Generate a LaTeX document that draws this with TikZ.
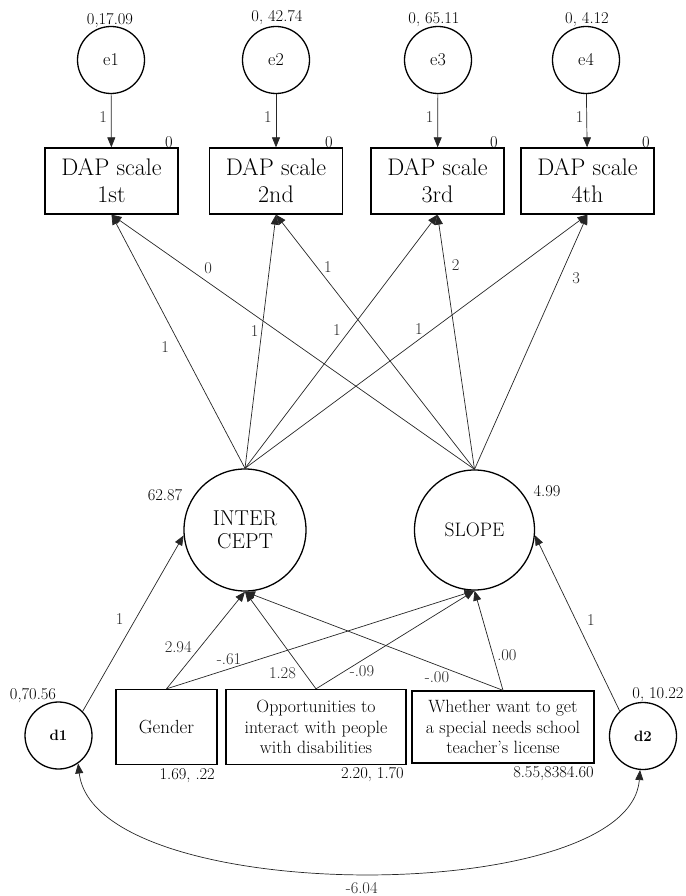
\documentclass[tikz,border=0pt]{standalone}
\usepackage{amsmath}
\usetikzlibrary{arrows.meta}

\tikzset{
  lbl/.style={font=\fontsize{16.5}{19}\selectfont,inner sep=0pt},
  obs/.style={draw,line width=1.3pt,align=center,inner sep=2pt},
  lat/.style={draw,circle,line width=1.3pt,align=center,inner sep=0pt},
  arr/.style={-{Triangle[length=10pt,width=8pt]},line width=0.7pt,black!85},
  cov/.style={{Triangle[length=10pt,width=8pt]}-{Triangle[length=10pt,width=8pt]},line width=0.7pt,black!85}
}

\begin{document}
\begin{tikzpicture}[x=1pt,y=-1pt]
\useasboundingbox (0,0) rectangle (685,896);

% error terms
\node[lat,minimum size=67pt,font=\fontsize{18}{21}\selectfont] (e1) at (111,60) {e1};
\node[lat,minimum size=67pt,font=\fontsize{18}{21}\selectfont] (e2) at (276,60) {e2};
\node[lat,minimum size=67pt,font=\fontsize{18}{21}\selectfont] (e3) at (438,60) {e3};
\node[lat,minimum size=67pt,font=\fontsize{18}{21}\selectfont] (e4) at (586,60) {e4};
\node[lbl] (ve1) at (110,21) {0,17.09};
\node[lbl] (ve2) at (277,18) {0, 42.74};
\node[lbl] (ve3) at (434,20) {0, 65.11};
\node[lbl] (ve4) at (587,20) {0, 4.12};

% DAP scale
\node[obs,minimum width=133pt,minimum height=66pt,font=\fontsize{24}{27}\selectfont] (b1) at (111.5,181) {DAP scale\\1st};
\node[obs,minimum width=133pt,minimum height=66pt,font=\fontsize{24}{27}\selectfont] (b2) at (276,181) {DAP scale\\2nd};
\node[obs,minimum width=133pt,minimum height=66pt,font=\fontsize{24}{27}\selectfont] (b3) at (437.5,181) {DAP scale\\3rd};
\node[obs,minimum width=133pt,minimum height=66pt,font=\fontsize{24}{27}\selectfont] (b4) at (587.5,181) {DAP scale\\4th};
\node[lbl] (m1) at (169,142) {0};
\node[lbl] (m2) at (329,142) {0};
\node[lbl] (m3) at (494,142) {0};
\node[lbl] (m4) at (646,142) {0};

% growth factors
\node[lat,minimum size=122pt,font=\fontsize{21.5}{23}\selectfont] (ic) at (245,530) {INTER\\CEPT};
\node[lat,minimum size=120pt,font=\fontsize{19.5}{23}\selectfont] (sl) at (474.5,530) {SLOPE};
\node[lbl] (vic) at (165,495) {62.87};
\node[lbl] (vsl) at (547,491) {4.99};

% disturbances
\node[lat,minimum size=67pt,font=\fontsize{15}{18}\selectfont\bfseries] (d1) at (58.5,735.5) {d1};
\node[lat,minimum size=67pt,font=\fontsize{15}{18}\selectfont\bfseries] (d2) at (643,736) {d2};
\node[lbl] (vd1) at (33,696) {0,70.56};
\node[lbl] (vd2) at (658,695) {0, 10.22};

% predictors
\node[obs,minimum width=101pt,minimum height=75pt,font=\fontsize{19}{21}\selectfont] (g) at (166.5,727) {Gender};
\node[obs,minimum width=180pt,minimum height=75pt,font=\fontsize{17.8}{20.5}\selectfont] (opp) at (316,727) {Opportunities to\\interact with people\\with disabilities};
\node[obs,minimum width=182pt,minimum height=72pt,font=\fontsize{17.8}{20.5}\selectfont] (lic) at (503,727) {Whether want to get\\a special needs school\\teacher's license};
\node[lbl,anchor=east] (vg) at (215,776) {1.69, .22};
\node[lbl,anchor=east] (vopp) at (404,775) {2.20, 1.70};
\node[lbl,anchor=east] (vlic) at (594,774) {8.55,8384.60};

% paths
\path[arr] (e1) edge node[lbl,pos=.43,xshift=-8] {1} (b1);
\path[arr] (e2) edge node[lbl,pos=.43,xshift=-8] {1} (b2);
\path[arr] (e3) edge node[lbl,pos=.43,xshift=-8] {1} (b3);
\path[arr] (e4) edge node[lbl,pos=.43,xshift=-7] {1} (b4);

\path[arr] (ic.north) edge node[lbl,pos=.478,xshift=-16] {1} (b1.south);
\path[arr] (sl.north) edge node[lbl,pos=.734,yshift=14] {0} (b1.south);
\path[arr] (ic.north) edge node[lbl,pos=.541,xshift=-7] {1} (b2.south);
\path[arr] (sl.north) edge node[lbl,pos=.796,xshift=11.5] {1} (b2.south);
\path[arr] (ic.north) edge node[lbl,pos=.545,xshift=-13] {1} (b3.south);
\path[arr] (sl.north) edge node[lbl,pos=.804,xshift=11] {2} (b3.south);
\path[arr] (ic.north) edge node[lbl,pos=.508,yshift=10.5] {1} (b4.south);
\path[arr] (sl.north) edge node[lbl,pos=.749,xshift=17] {3} (b4.south);

\path[arr] (g.north) edge node[lbl,pos=.429,xshift=-22] {2.94} (ic.south);
\path[arr] (g.north) edge node[lbl,pos=.203,yshift=10] {-.61} (sl.south);
\path[arr] (opp.north) edge node[lbl,pos=.163,xshift=-22] {1.28} (ic.south);
\path[arr] (opp.north) edge node[lbl,pos=.29,yshift=-11] {-.09} (sl.south);
\path[arr] (lic.north) edge node[lbl,pos=.256,yshift=-12] {-.00} (ic.south);
\path[arr] (lic.north) edge node[lbl,pos=.354,xshift=14] {.00} (sl.south);

\path[arr] (d1.45) edge node[lbl,pos=.524,xshift=-16] {1} (ic.185);
\path[arr] (d2.133) edge node[lbl,pos=.517,xshift=15] {1} (sl.355);

\draw[cov] (d1.-55) .. controls +(17,144) and +(-10,138) .. (d2.-95)
  node[lbl,pos=.5,anchor=base,yshift=-21] (cv) {-6.04};
\end{tikzpicture}
\end{document}
